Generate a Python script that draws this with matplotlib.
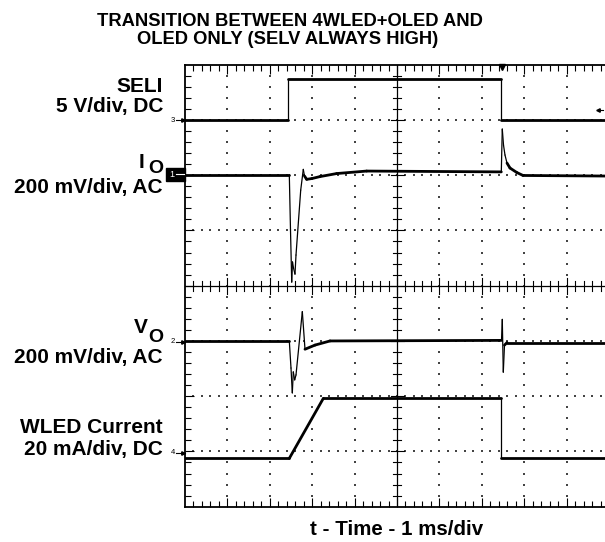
import numpy as np
import matplotlib
matplotlib.use("Agg")
import matplotlib.pyplot as plt
from matplotlib.collections import LineCollection
from matplotlib.patches import Rectangle

plt.rcParams['font.family'] = ['Liberation Sans', 'DejaVu Sans']

# --- scope traces (time in ms, 1 ms/div) ---
# SELI, volts (5 V/div, ground marker at +3 div)
t_seli = [0.0, 2.44, 2.44, 7.46, 7.46, 9.91]
v_seli = [0.0, 0.0, 3.7, 3.7, 0.0, 0.0]

# I_O, mV AC coupled (200 mV/div, marker at +2 div)
t_io = [0.0, 2.46, 2.488, 2.517, 2.535, 2.559, 2.594, 2.618, 2.729, 2.79,
        2.818, 2.87, 2.995, 3.184, 3.578, 4.285, 7.46, 7.483, 7.512, 7.547,
        7.594, 7.665, 7.823, 7.972, 9.91]
v_io = [2, 2, -198, -387, -314, -336, -358, -289, -54, 21,
        -3, -15, -12, -5, 6, 15, 12, 167, 109, 73,
        44, 26, 10, -1, -3]

# V_O, mV AC coupled (200 mV/div, marker at -1 div)
t_vo = [0.0, 2.46, 2.5, 2.531, 2.554, 2.587, 2.618, 2.767, 2.83, 3.066,
        3.42, 7.465, 7.483, 7.507, 7.535, 7.594, 9.91]
v_vo = [0, 0, -98, -188, -112, -141, -123, 106, -30, -15,
        0, 2, 78, -113, -15, -6, -6]

# WLED current, mA (20 mA/div, marker at -3 div)
t_wled = [0.0, 2.46, 3.262, 7.455, 7.455, 9.91]
i_wled = [-2.5, -2.5, 19.2, 19.2, -2.5, -2.5]

channels = [
    (t_seli, v_seli, 5.0, 3.0),
    (t_io, v_io, 200.0, 2.0),
    (t_vo, v_vo, 200.0, -1.0),
    (t_wled, i_wled, 20.0, -3.0),
]

W, H = 605, 542
fig = plt.figure(figsize=(W / 100, H / 100), dpi=100)

def fx(x):
    return x / W

def fy(y):
    return 1 - y / H

x0, x1, y0, y1 = 185, 605, 64.7, 506.7
ax = fig.add_axes([fx(x0), fy(y1), (x1 - x0) / W, (y1 - y0) / H])
xmax = (x1 - x0) / 42.4
ax.set_xlim(0, xmax)
ax.set_ylim(-4, 4)
px_x = 42.4   # px per div
px_y = 55.25

for side in ['top', 'bottom', 'left']:
    ax.spines[side].set_linewidth(1.3)
ax.spines['right'].set_visible(False)

ax.set_xticks(np.arange(1, 10))
ax.set_xticks(np.arange(0.2, xmax, 0.2), minor=True)
ax.set_yticks(np.arange(-3, 4))
ax.set_yticks(np.arange(-3.8, 4, 0.2), minor=True)
ax.tick_params(which='both', direction='in', top=True, bottom=True,
               left=True, right=False, labelbottom=False, labelleft=False,
               width=0.8, color='black')
ax.tick_params(which='major', length=6.5)
ax.tick_params(which='minor', length=4)

# dotted graticule
gx, gy = [], []
for xv in [1, 2, 3, 4, 6, 7, 8, 9]:
    for yv in np.arange(-3.8, 4, 0.2):
        gx.append(xv); gy.append(yv)
for yv in [-3, -2, -1, 1, 2, 3]:
    for xv in np.arange(0.2, xmax, 0.2):
        gx.append(xv); gy.append(yv)
ax.scatter(gx, gy, s=1.3, marker='s', color='#444444', linewidths=0, zorder=1)

# centre crosshair with ticks
ax.axhline(0, color='black', lw=0.9, zorder=2)
ax.axvline(5, color='black', lw=0.9, zorder=2)
for xv in np.arange(0.2, xmax, 0.2):
    h = 8 / px_y if abs(xv - round(xv)) < 1e-6 else 5 / px_y
    ax.plot([xv, xv], [-h, h], color='black', lw=0.8, zorder=2)
for yv in np.arange(-3.8, 4, 0.2):
    h = 6.5 / px_x if abs(yv - round(yv)) < 1e-6 else 4.2 / px_x
    ax.plot([5 - h, 5 + h], [yv, yv], color='black', lw=0.8, zorder=2)

# traces: thick on flat parts, thin on fast edges
for t, v, scale, off in channels:
    xs = np.array(t, dtype=float)
    ys = np.array(v, dtype=float) / scale + off
    segs = [[(xs[i], ys[i]), (xs[i + 1], ys[i + 1])] for i in range(len(xs) - 1)]
    widths = []
    for i in range(len(xs) - 1):
        dxp = abs(xs[i + 1] - xs[i]) * px_x
        dyp = abs(ys[i + 1] - ys[i]) * px_y
        widths.append(0.9 if dyp > 2.5 * dxp + 1 else 2.0)
    lc = LineCollection(segs, colors='black', linewidths=widths,
                        capstyle='round', joinstyle='round', zorder=4)
    ax.add_collection(lc)

# title and labels
tfont = dict(fontsize=13.2, fontweight='bold', ha='center', va='baseline')
fig.text(fx(290), fy(26.5), 'TRANSITION BETWEEN 4WLED+OLED AND', **tfont)
fig.text(fx(288), fy(44.5), 'OLED ONLY (SELV ALWAYS HIGH)', **tfont)

lfont = dict(fontsize=15, fontweight='bold', ha='right', va='baseline')
sfont = dict(fontsize=14, fontweight='bold', ha='right', va='baseline')
fig.text(fx(163), fy(91.7), 'SELI', **lfont)
fig.text(fx(163), fy(112), '5 V/div, DC', **lfont)
fig.text(fx(144), fy(168), 'I', **lfont)
fig.text(fx(163), fy(173.5), 'O', **sfont)
fig.text(fx(163), fy(193.3), '200 mV/div, AC', **lfont)
fig.text(fx(148), fy(333), 'V', **lfont)
fig.text(fx(163), fy(341.7), 'O', **sfont)
fig.text(fx(163), fy(363), '200 mV/div, AC', **lfont)
fig.text(fx(163), fy(433), 'WLED Current', **lfont)
fig.text(fx(163), fy(455), '20 mA/div, DC', **lfont)

fig.text(fx(397), fy(535), 't - Time - 1 ms/div', fontsize=14.8,
         fontweight='bold', ha='center', va='baseline')

# channel ground markers
for lab, yy in [('3', 120), ('2', 341.5), ('4', 453)]:
    fig.text(fx(175), fy(yy), lab, fontsize=5.5, ha='right', va='center')
    fig.add_artist(plt.Line2D([fx(176), fx(185)], [fy(yy), fy(yy)], color='black', lw=0.8))
    fig.add_artist(plt.Line2D([fx(183)], [fy(yy)], marker='>', ms=2.5, color='black'))
fig.add_artist(Rectangle((fx(165.7), fy(180.5)), (185 - 165.7) / W, 12.8 / H,
                         transform=fig.transFigure, color='black'))
fig.text(fx(172), fy(174.2), '1', fontsize=6.5, color='white', ha='center', va='center')
fig.add_artist(plt.Line2D([fx(175.5), fx(184)], [fy(174.2), fy(174.2)], color='white', lw=0.8))

# trigger position and level markers
fig.add_artist(plt.Line2D([fx(501.7)], [fy(67)], marker='v', ms=4.5, color='black'))
fig.add_artist(plt.Line2D([fx(597), fx(603)], [fy(109.5), fy(109.5)], color='black', lw=0.8))
fig.add_artist(plt.Line2D([fx(598)], [fy(109.5)], marker='<', ms=2.5, color='black'))

fig.savefig('out.png', dpi=100)
